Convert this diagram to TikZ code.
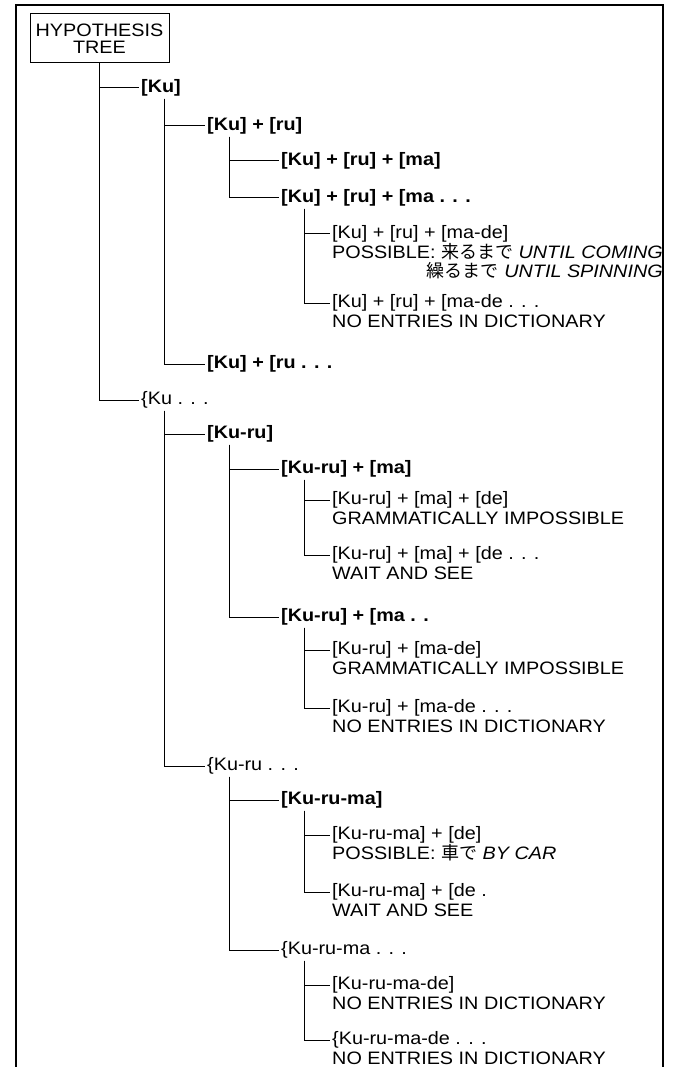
\documentclass[tikz,border=0pt]{standalone}
\usepackage{fontspec}
\setmainfont[FakeStretch=1.1]{Liberation Sans}
\newfontfamily\jpfont{Noto Sans CJK JP}

\tikzset{
  hyp/.style={anchor=west, inner sep=2pt, text height=13pt, text depth=4pt,
    font=\fontsize{18}{17}\selectfont\bfseries},
  hypl/.style={anchor=west, inner sep=2pt, text height=13pt, text depth=4pt,
    font=\fontsize{18}{17}\selectfont},
  stat/.style={anchor=north west, inner xsep=2pt, inner ysep=0pt, yshift=-1pt,
    text height=13pt, text depth=4pt, font=\fontsize{18}{17}\selectfont},
  branch/.style={line width=1pt},
}

\begin{document}
\begin{tikzpicture}[x=1pt,y=-1pt]
  \useasboundingbox (0,0) rectangle (672,1067);

  % frame, open at the bottom
  \draw[line width=1.3pt] (16,1067) -- (16,5) -- (663,5) -- (663,1067);

  % columns of the tree
  \coordinate (c0) at (99,0);
  \coordinate (c1) at (164,0);
  \coordinate (c2) at (229,0);
  \coordinate (c3) at (304,0);

  \node[draw, line width=1pt, minimum width=139pt, minimum height=49pt, inner sep=0pt,
    align=center, font=\fontsize{18}{17}\selectfont] (title) at (99.5,38.5) {HYPOTHESIS\\TREE};

  % level 0
  \node[hyp] (ku) at (139,88) {[Ku]};
  \node[hypl] (kuD) at (139,400) {\{Ku . . .};

  % first branch: [Ku]
  \node[hyp] (kuru) at (205,126) {[Ku] + [ru]};
  \node[hyp] (kuruD) at (205,364) {[Ku] + [ru . . .};
  \node[hyp] (kuruma) at (279,161) {[Ku] + [ru] + [ma]};
  \node[hyp] (kurumaD) at (279,198) {[Ku] + [ru] + [ma . . .};

  \node[hypl] (kurumade) at (330,234) {[Ku] + [ru] + [ma-de]};
  \node[stat] (s1) at (kurumade.south west) {POSSIBLE: {\jpfont 来るまで} \textit{UNTIL COMING}};
  \node[stat, anchor=north east] (s1b) at (s1.south east) {{\jpfont 繰るまで} \textit{UNTIL SPINNING}};
  \node[hypl] (kurumadeD) at (330,303) {[Ku] + [ru] + [ma-de . . .};
  \node[stat] (s2) at (kurumadeD.south west) {NO ENTRIES IN DICTIONARY};

  % second branch: {Ku ...
  \node[hyp] (kr) at (205,434) {[Ku-ru]};
  \node[hypl] (krD) at (205,766) {\{Ku-ru . . .};
  \node[hyp] (krma) at (279,469) {[Ku-ru] + [ma]};
  \node[hyp] (krmaD) at (279,617) {[Ku-ru] + [ma . .};

  \node[hypl] (krmade) at (330,500) {[Ku-ru] + [ma] + [de]};
  \node[stat] (s3) at (krmade.south west) {GRAMMATICALLY IMPOSSIBLE};
  \node[hypl] (krmadeD) at (330,555) {[Ku-ru] + [ma] + [de . . .};
  \node[stat] (s4) at (krmadeD.south west) {WAIT AND SEE};
  \node[hypl] (krmde) at (330,650) {[Ku-ru] + [ma-de]};
  \node[stat] (s5) at (krmde.south west) {GRAMMATICALLY IMPOSSIBLE};
  \node[hypl] (krmdeD) at (330,708) {[Ku-ru] + [ma-de . . .};
  \node[stat] (s6) at (krmdeD.south west) {NO ENTRIES IN DICTIONARY};

  \node[hyp] (krm) at (279,800) {[Ku-ru-ma]};
  \node[hypl] (krmD) at (279,950) {\{Ku-ru-ma . . .};
  \node[hypl] (krmde2) at (330,835) {[Ku-ru-ma] + [de]};
  \node[stat] (s7) at (krmde2.south west) {POSSIBLE: {\jpfont 車で} \textit{BY CAR}};
  \node[hypl] (krmde2D) at (330,892) {[Ku-ru-ma] + [de .};
  \node[stat] (s8) at (krmde2D.south west) {WAIT AND SEE};
  \node[hypl] (krmd) at (330,985) {[Ku-ru-ma-de]};
  \node[stat] (s9) at (krmd.south west) {NO ENTRIES IN DICTIONARY};
  \node[hypl] (krmdD) at (330,1040) {\{Ku-ru-ma-de . . .};
  \node[stat] (s10) at (krmdD.south west) {NO ENTRIES IN DICTIONARY};

  % connectors
  \foreach \c in {ku,kuD} \draw[branch] (title.south -| c0) |- (\c.west);
  \foreach \c in {kuru,kuruD} \draw[branch] (ku.south -| c1) |- (\c.west);
  \foreach \c in {kuruma,kurumaD} \draw[branch] (kuru.south -| c2) |- (\c.west);
  \foreach \c in {kurumade,kurumadeD} \draw[branch] (kurumaD.south -| c3) |- (\c.west);

  \foreach \c in {kr,krD} \draw[branch] (kuD.south -| c1) |- (\c.west);
  \foreach \c in {krma,krmaD} \draw[branch] (kr.south -| c2) |- (\c.west);
  \foreach \c in {krmade,krmadeD} \draw[branch] (krma.south -| c3) |- (\c.west);
  \foreach \c in {krmde,krmdeD} \draw[branch] (krmaD.south -| c3) |- (\c.west);
  \foreach \c in {krm,krmD} \draw[branch] (krD.south -| c2) |- (\c.west);
  \foreach \c in {krmde2,krmde2D} \draw[branch] (krm.south -| c3) |- (\c.west);
  \foreach \c in {krmd,krmdD} \draw[branch] (krmD.south -| c3) |- (\c.west);
\end{tikzpicture}
\end{document}
